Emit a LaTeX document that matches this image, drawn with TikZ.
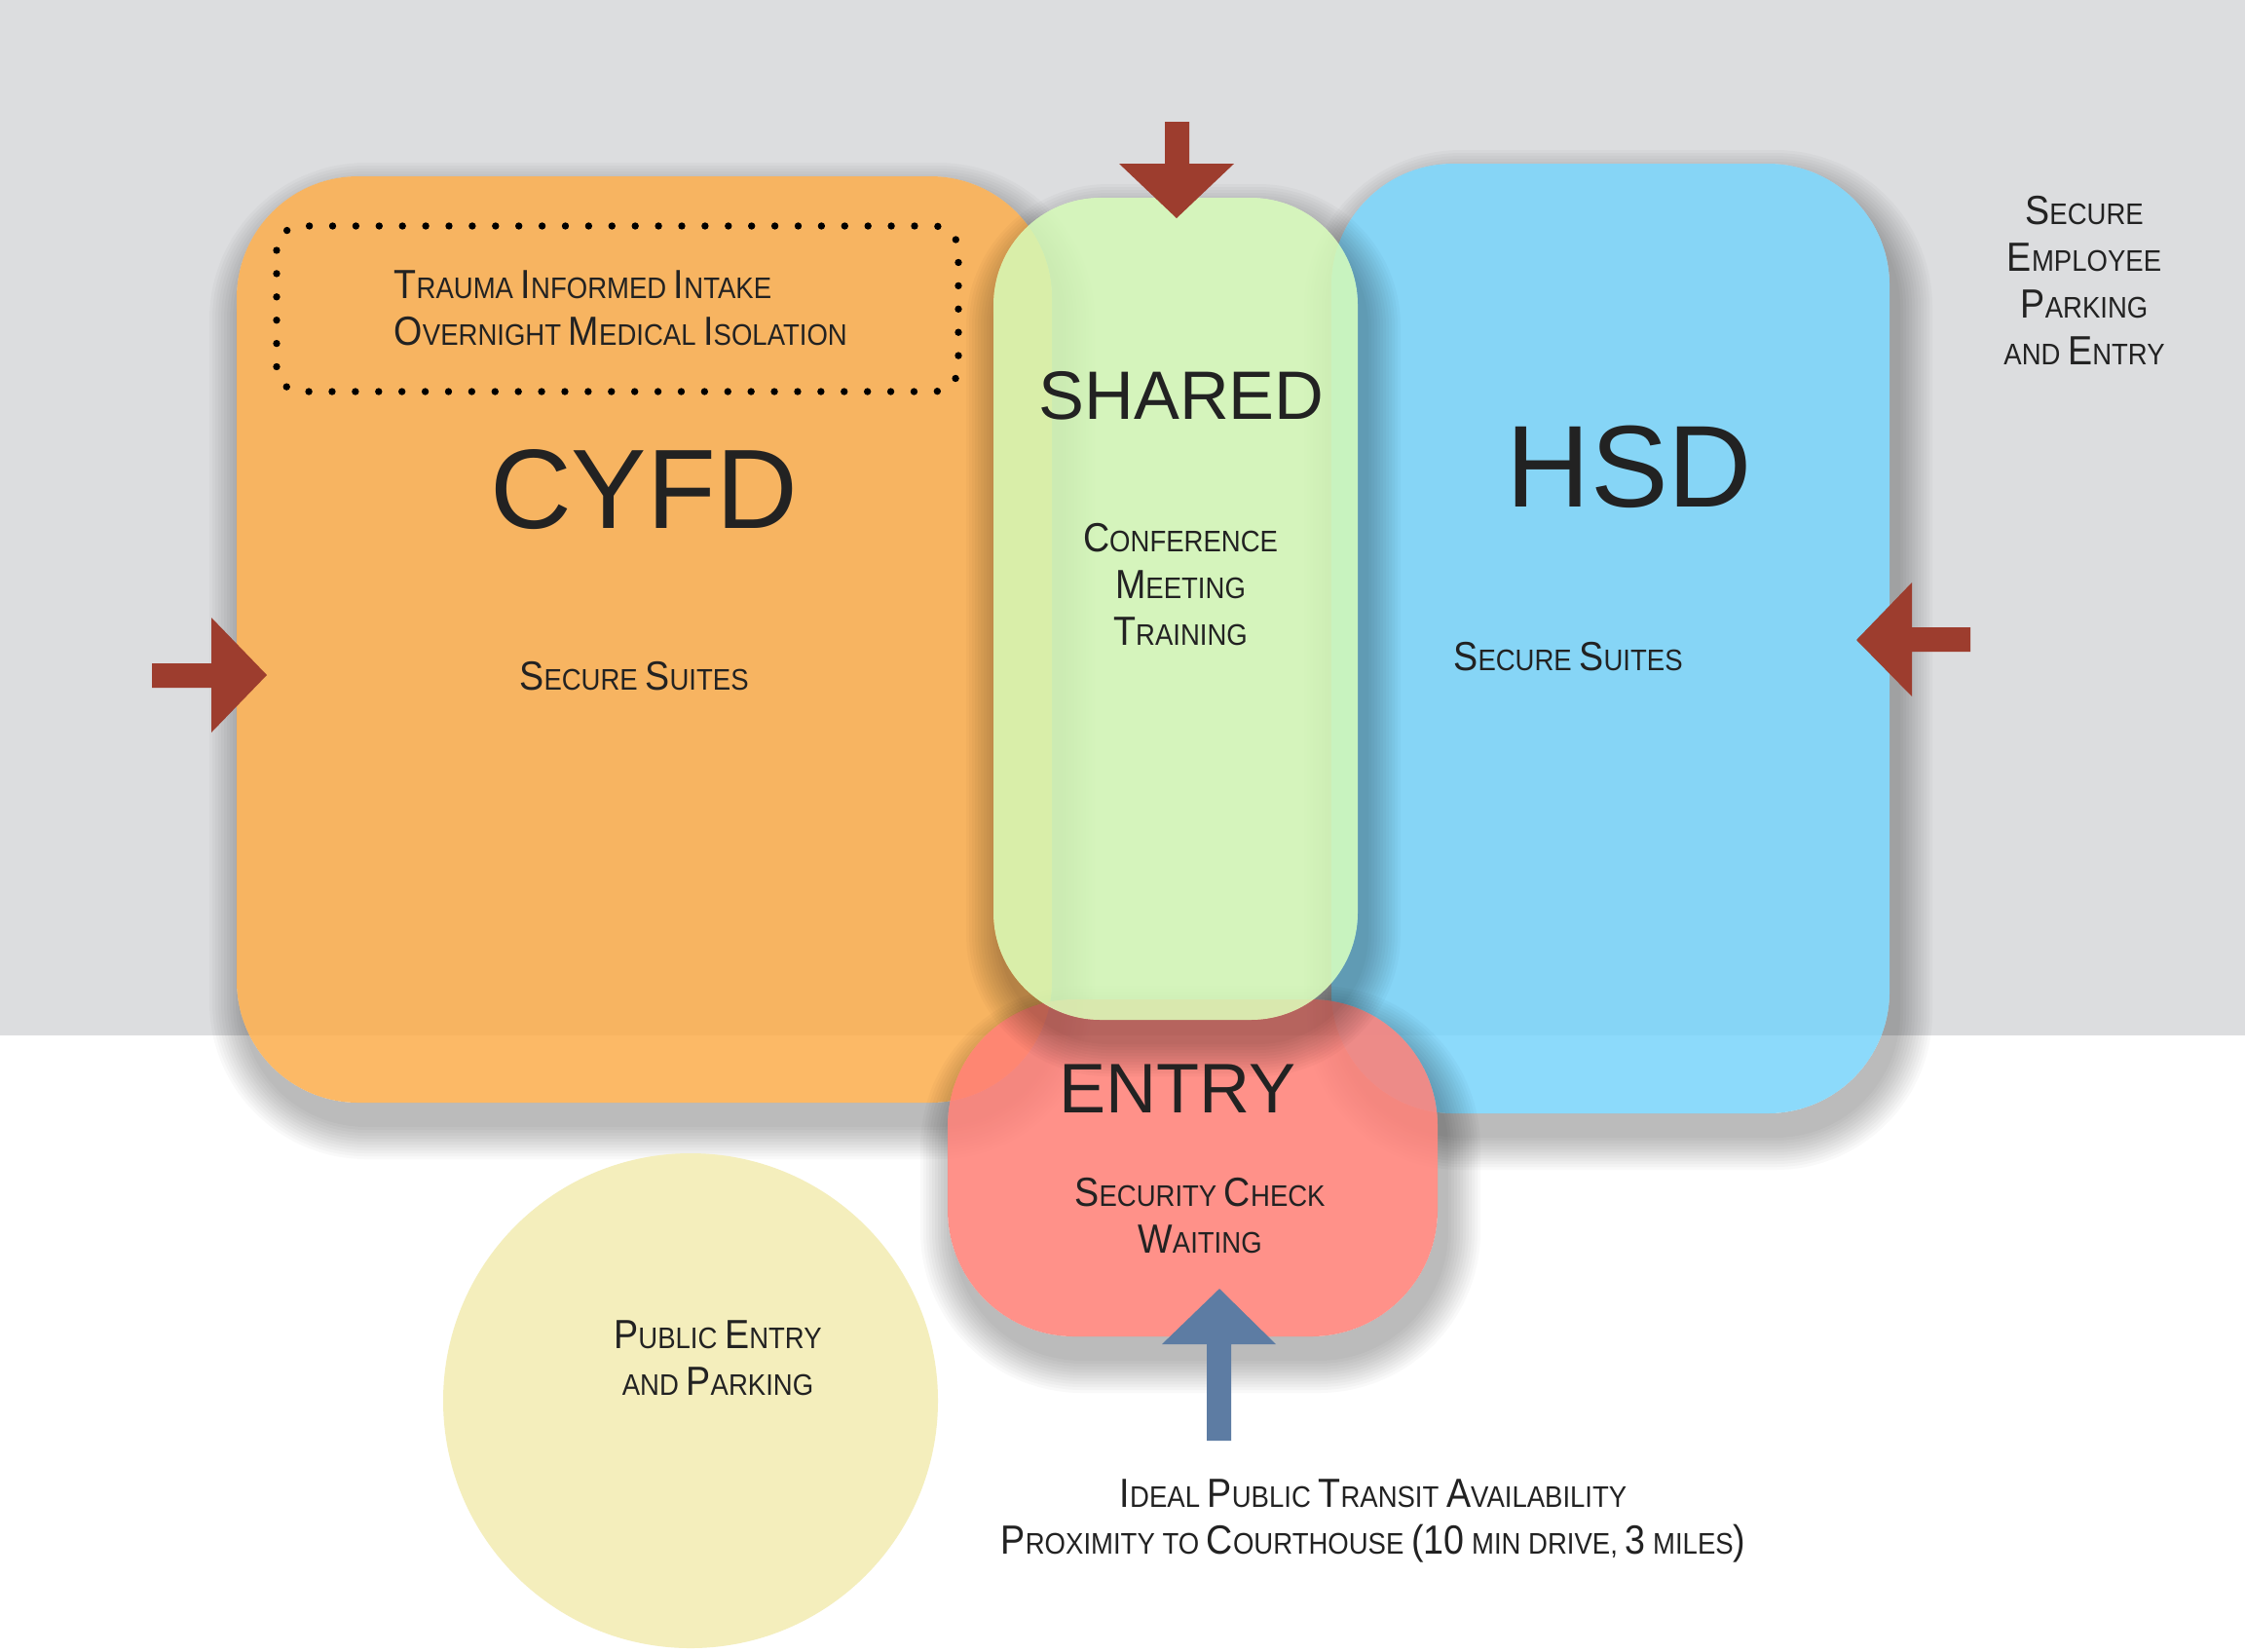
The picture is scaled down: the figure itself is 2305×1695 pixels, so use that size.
\documentclass[tikz,border=0pt]{standalone}
\usepackage{fontspec}
\setmainfont{Liberation Sans}[FakeStretch=0.9]
\newfontfamily\handfont{Liberation Sans}
\usetikzlibrary{positioning}

\definecolor{bggray}{RGB}{220,221,223}
\definecolor{cyfdorange}{RGB}{252,173,76}
\definecolor{hsdblue}{RGB}{120,212,251}
\definecolor{sharedgreen}{RGB}{212,249,182}
\definecolor{entryred}{RGB}{255,126,117}
\definecolor{publicyellow}{RGB}{244,238,188}
\definecolor{arrowred}{RGB}{157,61,46}
\definecolor{arrowblue}{RGB}{93,124,163}
\definecolor{ink}{RGB}{34,34,34}

% bigger capital inside the small-caps labels
\newcommand\bc[1]{{\fontsize{11.9}{13.6}\selectfont #1}}

% soft shadow round a rounded block: x1 y1 x2 y2 radius
\newcommand\zoneshadow[5]{%
  \begin{scope}
    \clip (0,0) rectangle (2305,1695) [rounded corners=#5] (#1,#4) rectangle (#3,#2);
    \foreach \d in {3,6,...,36}
      \fill[black, opacity=0.024, rounded corners=#5+\d*0.1mm] (#1+8-\d,#2+22-\d) rectangle (#3+8+\d,#4+22+\d);
  \end{scope}}

\tikzset{
  lbl/.style={font=\fontsize{8.7}{13.6}\selectfont, text=ink, align=center, inner sep=0pt},
  hand/.style={font=\handfont, text=ink, inner sep=0pt, anchor=base},
  zone/.style={opacity=0.85},
  blockarrow/.style={fill=arrowred},
}

\begin{document}
\begin{tikzpicture}[x=0.1mm, y=-0.1mm]
    \useasboundingbox[fill=white] (0,0) rectangle (2305,1695);
    % Secure area (gray band)
    \fill[bggray] (0,0) rectangle (2305,1063);

    % CYFD block
    \zoneshadow{243}{181}{1080}{1132}{12.5mm}
    \fill[zone, cyfdorange, rounded corners=12.5mm] (243,181) rectangle (1080,1132);

    % HSD block
    \zoneshadow{1367}{168}{1940}{1143}{12.5mm}
    \fill[zone, hsdblue, rounded corners=12.5mm] (1367,168) rectangle (1940,1143);

    % Entry block
    \zoneshadow{973}{1026}{1476}{1372}{13mm}
    \fill[zone, entryred, rounded corners=13mm] (973,1026) rectangle (1476,1372);

    % Shared block
    \zoneshadow{1020}{203}{1394}{1047}{11mm}
    \fill[zone, sharedgreen, rounded corners=11mm] (1020,203) rectangle (1394,1047);

    % Public parking
    \fill[publicyellow] (709,1438) circle (254);

    % Intake box (dotted)
    \draw[black, line width=2.1pt, line cap=round, dash pattern=on 0pt off 6.8pt, rounded corners=2.5mm]
        (284,232) rectangle (984,402);

    % Labels
    \node[lbl, align=left, anchor=north west] (intake) at (404,277)
        {\bc{T}RAUMA \bc{I}NFORMED \bc{I}NTAKE\\\bc{O}VERNIGHT \bc{M}EDICAL \bc{I}SOLATION};
    \node[hand, font=\handfont\fontsize{33}{36}\selectfont] (cyfd) at (661,542) {CYFD};
    \node[lbl, anchor=base] (cyfdsuites) at (651,708) {\bc{S}ECURE \bc{S}UITES};

    \node[hand, font=\handfont\fontsize{20}{24}\selectfont] (shared) at (1213,430) {SHARED};
    \node[lbl, anchor=north] (rooms) at (1212,537) {\bc{C}ONFERENCE\\\bc{M}EETING\\\bc{T}RAINING};

    \node[hand, font=\handfont\fontsize{34}{38}\selectfont] (hsd) at (1673,520) {HSD};
    \node[lbl, anchor=base] (hsdsuites) at (1610,688) {\bc{S}ECURE \bc{S}UITES};

    \node[lbl, anchor=north] (staff) at (2140,201)
        {\bc{S}ECURE\\\bc{E}MPLOYEE\\\bc{P}ARKING\\AND \bc{E}NTRY};

    \node[hand, font=\handfont\fontsize{20.5}{24}\selectfont] (entry) at (1209,1142) {ENTRY};
    \node[lbl, anchor=north] (security) at (1232,1209) {\bc{S}ECURITY \bc{C}HECK\\\bc{W}AITING};

    \node[lbl, anchor=north] (public) at (737,1355) {\bc{P}UBLIC \bc{E}NTRY\\AND \bc{P}ARKING};

    \node[lbl, anchor=north] (transit) at (1410,1518)
        {\bc{I}DEAL \bc{P}UBLIC \bc{T}RANSIT \bc{A}VAILABILITY\\
         \bc{P}ROXIMITY TO \bc{C}OURTHOUSE \bc{(10} MIN DRIVE, \bc{3} MILES\bc{)}};

    % Staff arrows
    \fill[blockarrow] (1196,125) -- (1221,125) -- (1221,168) -- (1267,168) -- (1208,224)
        -- (1149,168) -- (1196,168) -- cycle;
    \fill[blockarrow] (156,681) -- (217,681) -- (217,634) -- (274,693) -- (217,752)
        -- (217,706) -- (156,706) -- cycle;
    \fill[blockarrow] (2023,644) -- (1963,644) -- (1963,598) -- (1906,657) -- (1963,715)
        -- (1963,669) -- (2023,669) -- cycle;

    % Public arrow
    \fill[arrowblue] (1239,1479) -- (1239,1380) -- (1193,1380) -- (1252,1323) -- (1310,1380)
        -- (1264,1380) -- (1264,1479) -- cycle;
\end{tikzpicture}
\end{document}
